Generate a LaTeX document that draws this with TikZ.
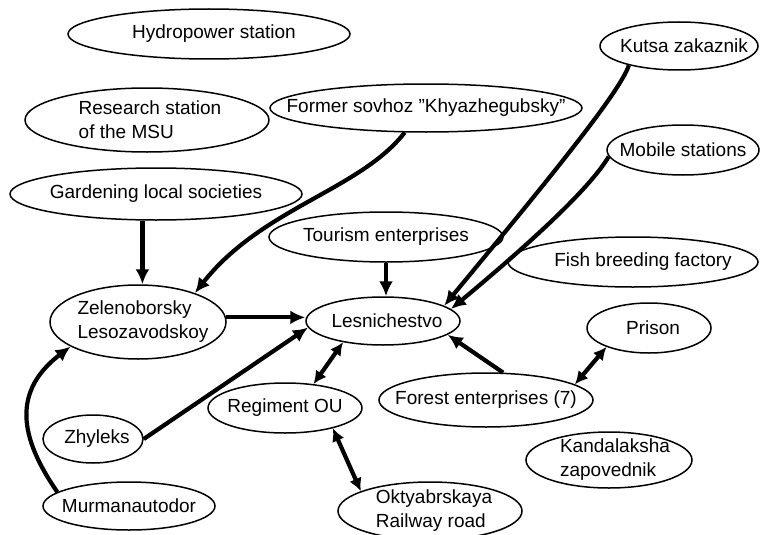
\documentclass[tikz,border=0pt]{standalone}
\usepackage{fontspec}
\setmainfont{Liberation Sans}
\usepackage{tikz}
\usetikzlibrary{arrows.meta}
\usetikzlibrary{shapes.geometric}

\begin{document}
\begin{tikzpicture}[x=1pt,y=-1pt,
        font=\fontsize{19}{24}\selectfont,
        box/.style={ellipse,draw,line width=1.5pt,inner sep=0pt},
        link/.style={line width=4.2pt,-{Latex[length=15pt,width=14pt]}},
        both/.style={line width=4.2pt,{Latex[length=13pt,width=13pt]}-{Latex[length=13pt,width=13pt]}}]
        \useasboundingbox (0,0) rectangle (760,535);
        % stakeholders
        \node[box,minimum width=282pt,minimum height=50pt,label={[xshift=5pt]center:Hydropower station}] (hyd) at (209,34) {};
        \node[box,minimum width=244pt,minimum height=64pt,label={[align=left,xshift=3pt]center:Research station\\of the MSU}] (msu) at (147,120) {};
        \node[box,minimum width=312pt,minimum height=48pt,label={center:Former sovhoz ”Khyazhegubsky”}] (sov) at (426,108) {};
        \node[box,minimum width=158pt,minimum height=48pt,label={[xshift=5pt]center:Kutsa zakaznik}] (kut) at (679,46) {};
        \node[box,minimum width=152pt,minimum height=50pt,label={center:Mobile stations}] (mob) at (683,150) {};
        \node[box,minimum width=292pt,minimum height=52pt,label={center:Gardening local societies}] (gar) at (156,194) {};
        \node[box,minimum width=234pt,minimum height=50pt,label={center:Tourism enterprises}] (tour) at (386,237) {};
        \node[box,minimum width=250pt,minimum height=50pt,label={[xshift=10pt]center:Fish breeding factory}] (fish) at (633,262) {};
        \node[box,minimum width=176pt,minimum height=74pt,label={[align=left,xshift=5pt]center:Zelenoborsky\\Lesozavodskoy}] (zel) at (138,322) {};
        \node[box,minimum width=154pt,minimum height=48pt,label={[xshift=4pt]center:Lesnichestvo}] (les) at (383,321) {};
        \node[box,minimum width=124pt,minimum height=50pt,label={[xshift=4pt]center:Prison}] (pri) at (649,328) {};
        \node[box,minimum width=214pt,minimum height=54pt,label={center:Forest enterprises (7)}] (forest) at (486,400) {};
        \node[box,minimum width=154pt,minimum height=50pt,label={center:Regiment OU}] (reg) at (285,408) {};
        \node[box,minimum width=100pt,minimum height=48pt,label={[xshift=4pt]center:Zhyleks}] (zhy) at (93,439) {};
        \node[box,minimum width=166pt,minimum height=56pt,label={[align=left,xshift=6pt]center:Kandalaksha\\zapovednik}] (kan) at (609,460) {};
        \node[box,minimum width=172pt,minimum height=48pt,label={center:Murmanautodor}] (mur) at (129,506) {};
        \node[box,minimum width=184pt,minimum height=58pt,label={[align=left,xshift=4pt]center:Oktyabrskaya\\Railway road}] (okt) at (430,511) {};
        % relations
        \draw[link] (gar.243) -- (gar.243 |- zel.north);
        \draw[link] (sov.229) .. controls (360,190) and (262,208) .. (zel.27);
        \draw[link] (tour.south) -- (tour.south |- les.north);
        \draw[link] (zel.3) -- (zel.3 -| les.west);
        \draw[link] (zhy.east) -- (les.185);
        \draw[link] (mur.169) .. controls (25,445) and (7,395) .. (zel.200);
        \draw[link] (kut.201) .. controls (620,93) and (539,191) .. (les.14);
        \draw[link] (mob.185) .. controls (592,185) and (540,235) .. (les.10);
        \draw[link] (forest.58) -- (les.348);
        \draw[both] (forest.10) -- (pri.204);
        \draw[both] (les.208) -- (reg.40);
        \draw[both] (reg.337) -- (okt.164);
\end{tikzpicture}
\end{document}
